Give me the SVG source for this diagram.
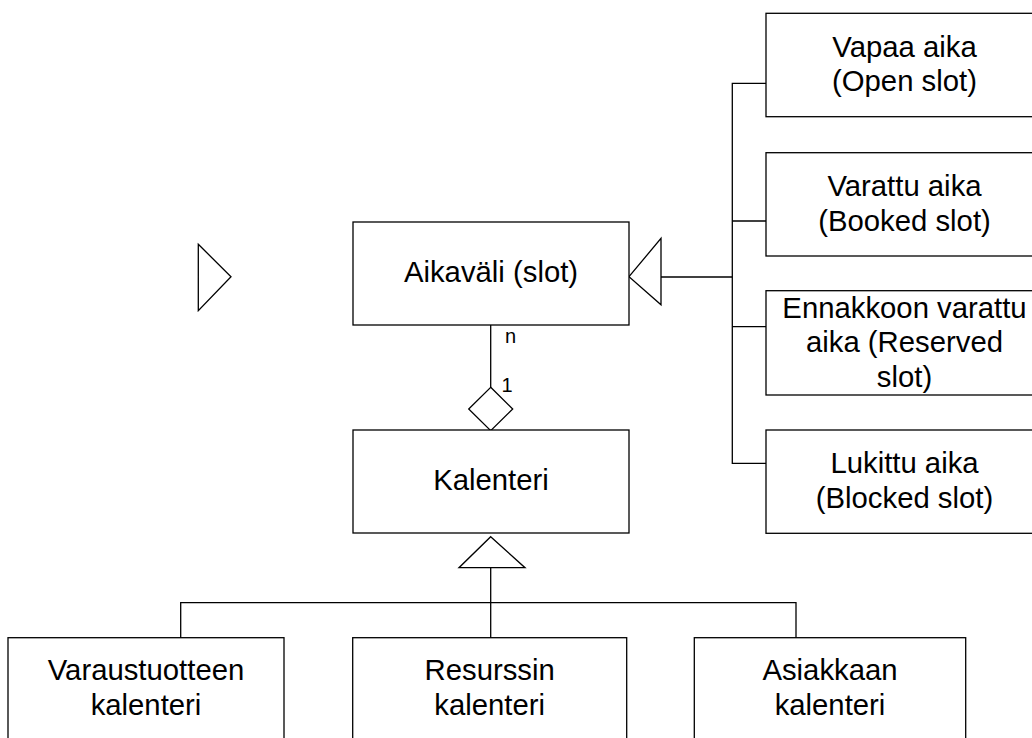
<svg xmlns="http://www.w3.org/2000/svg" width="1032" height="738" viewBox="0 0 1032 738">
<style>
.box{fill:#fff;stroke:#000;stroke-width:1.3}
.ln{fill:none;stroke:#000;stroke-width:1.3}
.hd{fill:#fff;stroke:#000;stroke-width:1.3}
text{font-family:"Liberation Sans",Arial,sans-serif;font-size:29.3px;fill:#000;text-anchor:middle}
.lbl{font-size:20px;text-anchor:start}
</style>
<rect width="1032" height="738" fill="#fff"/>
<g id="connectors">
<line class="ln" x1="490.7" y1="325" x2="490.7" y2="387.5"/>
<line class="ln" x1="661" y1="277" x2="732.3" y2="277"/>
<polyline class="ln" points="766,83.3 732.3,83.3 732.3,463.3 766,463.3"/>
<line class="ln" x1="732.3" y1="221" x2="766" y2="221"/>
<line class="ln" x1="732.3" y1="326.7" x2="766" y2="326.7"/>
<line class="ln" x1="490.7" y1="567.7" x2="490.7" y2="638"/>
<polyline class="ln" points="180.7,638 180.7,602.7 796,602.7 796,638"/>
<polygon class="hd" points="629,276.7 661,238.3 661,304.7"/>
<polygon class="hd" points="490.7,387.3 512.7,409 490.7,430.7 468.7,409"/>
<polygon class="hd" points="490.7,536.7 525,567.7 459,567.7"/>
<polygon class="hd" points="198.3,244.3 231,276.7 198.3,310.7"/>
<text class="lbl" x="505" y="343">n</text>
<text class="lbl" x="501.5" y="391.7">1</text>
</g>
<g id="aikavali">
<rect class="box" x="353" y="222" width="276" height="103"/>
<text x="491" y="282.3">Aikaväli (slot)</text>
</g>
<g id="kalenteri">
<rect class="box" x="353" y="430" width="276" height="103"/>
<text x="491" y="490">Kalenteri</text>
</g>
<g id="vapaa">
<rect class="box" x="766" y="13.3" width="276" height="103.4"/>
<text x="904.5" y="56.7">Vapaa aika</text>
<text x="904.5" y="91">(Open slot)</text>
</g>
<g id="varattu">
<rect class="box" x="766" y="152.7" width="276" height="103.3"/>
<text x="904.5" y="196">Varattu aika</text>
<text x="904.5" y="230.5">(Booked slot)</text>
</g>
<g id="ennakkoon">
<rect class="box" x="766" y="290.7" width="276" height="104.3"/>
<text x="904.5" y="317.7">Ennakkoon varattu</text>
<text x="904.5" y="352.3">aika (Reserved</text>
<text x="904.5" y="386.7">slot)</text>
</g>
<g id="lukittu">
<rect class="box" x="766" y="430" width="276" height="103.3"/>
<text x="904.5" y="473.3">Lukittu aika</text>
<text x="904.5" y="508.3">(Blocked slot)</text>
</g>
<g id="varaustuote">
<rect class="box" x="8" y="637.7" width="276" height="103"/>
<text x="146" y="680">Varaustuotteen</text>
<text x="146" y="715">kalenteri</text>
</g>
<g id="resurssi">
<rect class="box" x="352.7" y="637.7" width="274" height="103"/>
<text x="489.7" y="680">Resurssin</text>
<text x="489.7" y="715">kalenteri</text>
</g>
<g id="asiakas">
<rect class="box" x="694.3" y="637.7" width="271.4" height="103"/>
<text x="830" y="680">Asiakkaan</text>
<text x="830" y="715">kalenteri</text>
</g>
</svg>
